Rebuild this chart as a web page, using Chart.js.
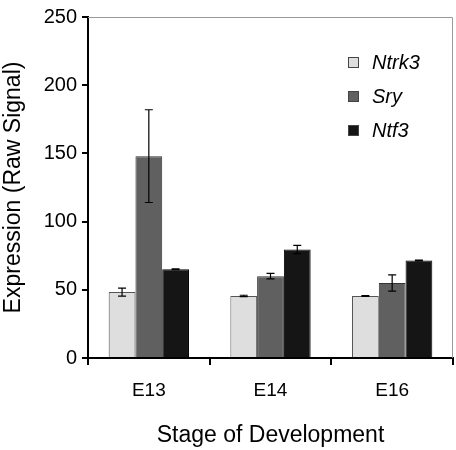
<!DOCTYPE html>
<html>
<head>
<meta charset="utf-8">
<script src="https://cdn.jsdelivr.net/npm/chart.js@4"></script>
<style>
  html, body { margin: 0; padding: 0; background: #fff; }
  #wrap { width: 456px; height: 450px; }
</style>
</head>
<body>
<div id="wrap"><canvas id="exprChart"></canvas></div>
<script>
const stages = ['E13', 'E14', 'E16'];
const genes = ['Ntrk3', 'Sry', 'Ntf3'];
const ntrk3 = [48.3, 45.5, 45.5];
const sry = [148, 60, 55];
const ntf3 = [65, 79.5, 71.5];
const ntrk3Err = [3, 0.5, 0.3];
const sryErr = [34, 2, 6];
const ntf3Err = [0.3, 3, 0.3];
const yTicks = [0, 50, 100, 150, 200, 250];

const FONT = '"Liberation Sans", Arial, sans-serif';

// error bars drawn over each bar from the err arrays
const errorBars = {
    id: 'errorBars',
    afterDatasetsDraw(chart) {
        const ctx = chart.ctx;
        const y = chart.scales.y;
        ctx.save();
        ctx.strokeStyle = '#000';
        ctx.lineWidth = 1.2;
        chart.data.datasets.forEach((ds, di) => {
            const meta = chart.getDatasetMeta(di);
            meta.data.forEach((bar, i) => {
                const v = ds.data[i], e = ds.err[i];
                const yHi = y.getPixelForValue(v + e);
                const yLo = y.getPixelForValue(v - e);
                const x = bar.x;
                ctx.beginPath();
                ctx.moveTo(x, yHi); ctx.lineTo(x, yLo);
                ctx.moveTo(x - 4, yHi); ctx.lineTo(x + 4, yHi);
                ctx.moveTo(x - 4, yLo); ctx.lineTo(x + 4, yLo);
                ctx.stroke();
            });
        });
        ctx.restore();
    }
};

// gray frame on top and right, legend inside plot
const frameAndLegend = {
    id: 'frameAndLegend',
    afterDraw(chart) {
        const ctx = chart.ctx;
        const a = chart.chartArea;
        ctx.save();
        ctx.strokeStyle = '#9a9a9a';
        ctx.lineWidth = 1;
        ctx.beginPath();
        ctx.moveTo(a.left, a.top + 0.5);
        ctx.lineTo(a.right - 0.5, a.top + 0.5);
        ctx.lineTo(a.right - 0.5, a.bottom);
        ctx.stroke();

        ctx.font = 'italic 20px ' + FONT;
        ctx.textBaseline = 'middle';
        chart.data.datasets.forEach((ds, i) => {
            const cy = 62 + i * 34;
            ctx.fillStyle = ds.backgroundColor;
            ctx.fillRect(348, cy - 5, 11, 11);
            ctx.strokeStyle = '#444';
            ctx.strokeRect(348.5, cy - 4.5, 10, 10);
            ctx.fillStyle = '#000';
            ctx.fillText(ds.label, 372, cy + 1);
        });
        ctx.restore();
    }
};

new Chart(document.getElementById('exprChart'), {
    type: 'bar',
    data: {
        labels: stages,
        datasets: [
            { label: genes[0], data: ntrk3, err: ntrk3Err, backgroundColor: '#dedede', borderColor: '#555', borderWidth: 1 },
            { label: genes[1], data: sry, err: sryErr, backgroundColor: '#606060', borderColor: '#333', borderWidth: 1 },
            { label: genes[2], data: ntf3, err: ntf3Err, backgroundColor: '#151515', borderColor: '#000', borderWidth: 1 }
        ]
    },
    options: {
        responsive: true,
        maintainAspectRatio: false,
        animation: false,
        layout: { padding: { top: 0, right: 3, left: 0, bottom: 0 } },
        categoryPercentage: 0.66,
        barPercentage: 1.0,
        scales: {
            x: {
                grid: {
                    offset: true,
                    drawOnChartArea: false,
                    drawTicks: true,
                    tickLength: 7,
                    color: '#000',
                    lineWidth: 2
                },
                border: { display: true, color: '#000', width: 2 },
                ticks: { color: '#000', font: { family: FONT, size: 19 }, padding: 14 },
                title: {
                    display: true,
                    text: 'Stage of Development',
                    color: '#000',
                    font: { family: FONT, size: 23 },
                    padding: { top: 8, bottom: 1 }
                },
                afterFit(scale) { scale.height = 92; }
            },
            y: {
                min: 0,
                max: 250,
                afterBuildTicks(scale) { scale.ticks = yTicks.map(v => ({ value: v })); },
                grid: {
                    drawOnChartArea: false,
                    drawTicks: true,
                    tickLength: 6,
                    color: '#000',
                    lineWidth: 2
                },
                border: { display: true, color: '#000', width: 2 },
                ticks: { color: '#000', font: { family: FONT, size: 20 }, padding: 5 },
                title: {
                    display: true,
                    text: 'Expression (Raw Signal)',
                    color: '#000',
                    font: { family: FONT, size: 23 },
                    padding: { top: 0, bottom: 4 }
                },
                afterFit(scale) { scale.width = 88; }
            }
        },
        plugins: {
            legend: { display: false },
            tooltip: { enabled: false }
        }
    },
    plugins: [errorBars, frameAndLegend]
});
</script>
</body>
</html>
